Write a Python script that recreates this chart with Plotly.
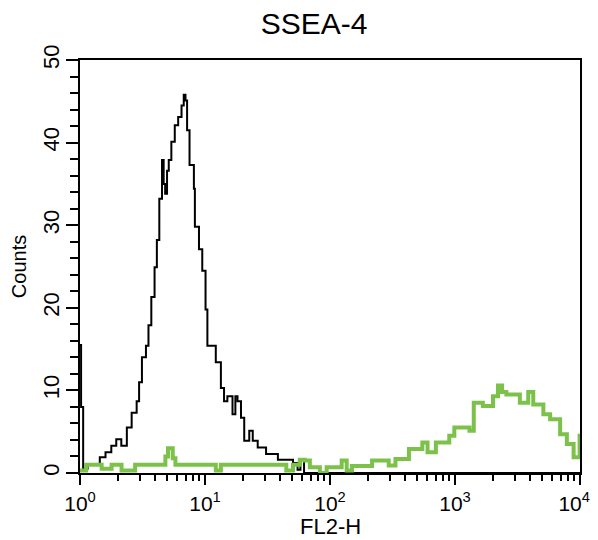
import plotly.graph_objects as go

# Black histogram (isotype/control): FL2-H channel value, counts (step starts)
black_fl2h = [1.00, 1.02, 1.06, 1.15, 1.44, 1.60, 1.78, 1.95, 2.14, 2.37, 2.59, 2.84, 2.97,
              3.13, 3.37, 3.53, 3.72, 3.95, 4.12, 4.31, 4.53, 4.67, 4.80, 4.97, 5.13, 5.38,
              5.73, 6.10, 6.49, 6.76, 6.98, 7.19, 7.52, 8.15, 8.30, 8.95, 9.51, 10.1, 10.45,
              12.2, 13.4, 14.2, 15.1, 16.6, 17.5, 18.2, 19.4, 20.6, 22.6, 24.1, 26.4, 30.8,
              38.3, 50.6, 55.0, 58.0, 62.0, 10000]
black_counts = [15.5, 8.0, 0.5, 1.0, 1.9, 2.5, 3.3, 4.1, 3.3, 5.5, 7.3, 8.7, 11.0,
                14.0, 15.4, 17.9, 21.3, 24.9, 28.2, 33.2, 37.9, 35.0, 33.8, 36.6, 37.9, 40.1,
                42.1, 43.1, 44.5, 45.8, 45.1, 41.5, 37.3, 34.4, 29.8, 27.1, 24.5, 19.8, 15.4,
                13.4, 10.3, 8.7, 9.3, 7.1, 9.3, 8.7, 6.7, 3.9, 5.1, 3.9, 3.1, 2.3,
                1.6, 1.2, 0.4, 1.6, 0.0, 0.0]

# Green histogram (SSEA-4 stained)
green_fl2h = [1.00, 1.12, 1.49, 1.79, 2.15, 2.76, 4.82, 5.06, 5.52, 5.80, 12.2, 13.4, 44.7,
              50.6, 57.3, 62.8, 69.0, 83.0, 94.0, 124, 136, 150, 217, 295, 334, 428, 548,
              603, 703, 900, 988, 1306, 1413, 1671, 2014, 2208, 2379, 2576, 3302, 3855,
              4227, 5093, 5766, 6936, 7852, 8890, 9930, 10000]
green_counts = [0.3, 1.0, 0.5, 1.0, 0.3, 1.0, 2.0, 3.0, 1.8, 1.0, 0.3, 1.0, 0.3,
                1.0, 1.6, 1.5, 0.7, 0.0, 0.7, 1.5, 0.3, 0.85, 1.5, 0.9, 1.7, 2.9, 3.7,
                2.5, 3.7, 4.5, 5.5, 5.1, 8.5, 8.1, 9.3, 10.6, 9.8, 9.5, 8.5, 9.8,
                8.3, 7.1, 6.5, 4.7, 3.5, 1.9, 4.5, 4.5]

x_tick_vals = [1, 10, 100, 1000, 10000]
x_tick_text = ["10<sup>0</sup>", "10<sup>1</sup>", "10<sup>2</sup>", "10<sup>3</sup>",
               "10<sup>4</sup>&nbsp;&nbsp;"]
x_minor_vals = [m * d for d in [1, 10, 100, 1000] for m in range(2, 10)]

fig = go.Figure()
fig.add_trace(go.Scatter(x=black_fl2h, y=black_counts, mode="lines", line_shape="hv",
                         line=dict(color="black", width=2), showlegend=False))
fig.add_trace(go.Scatter(x=green_fl2h, y=green_counts, mode="lines", line_shape="hv",
                         line=dict(color="#7cc24a", width=4), showlegend=False))

font = "Liberation Sans, Arial, Helvetica, sans-serif"
fig.update_layout(
    width=598, height=540,
    margin=dict(l=72, r=26, t=52, b=75),
    paper_bgcolor="white", plot_bgcolor="white",
    font=dict(family=font, color="black"),
    title=dict(text="SSEA-4", x=0.512, xanchor="center", y=0.972, yanchor="middle",
               font=dict(size=30, family=font, color="black")),
    showlegend=False,
    annotations=[dict(text="FL2-H", xref="paper", yref="paper", x=0.5, y=-0.13,
                      xanchor="center", yanchor="middle", showarrow=False,
                      font=dict(size=22, family=font, color="black"))],
)
fig.update_xaxes(
    type="log", range=[0, 4], showgrid=False, zeroline=False, automargin=False,
    showline=True, linecolor="black", linewidth=2, mirror=True,
    ticks="outside", ticklen=10, tickwidth=2, tickcolor="black",
    tickmode="array", tickvals=x_tick_vals, ticktext=x_tick_text,
    ticklabelstandoff=1,
    tickfont=dict(size=21, family=font, color="black"),
    minor=dict(tickmode="array", tickvals=x_minor_vals, ticks="outside", ticklen=6,
               tickwidth=2, tickcolor="black", showgrid=False),
)
fig.update_yaxes(
    range=[0, 50], showgrid=False, zeroline=False, automargin=False,
    showline=True, linecolor="black", linewidth=2, mirror=True,
    ticks="outside", ticklen=12, tickwidth=2, tickcolor="black",
    tickmode="linear", tick0=0, dtick=10, tickangle=-90,
    ticklabelstandoff=-2,
    tickfont=dict(size=22, family=font, color="black"),
    minor=dict(dtick=2, ticks="outside", ticklen=8, tickwidth=2, tickcolor="black",
               showgrid=False),
    title=dict(text="Counts", font=dict(size=20, family=font, color="black"), standoff=14),
)

fig.write_html("out.html")
